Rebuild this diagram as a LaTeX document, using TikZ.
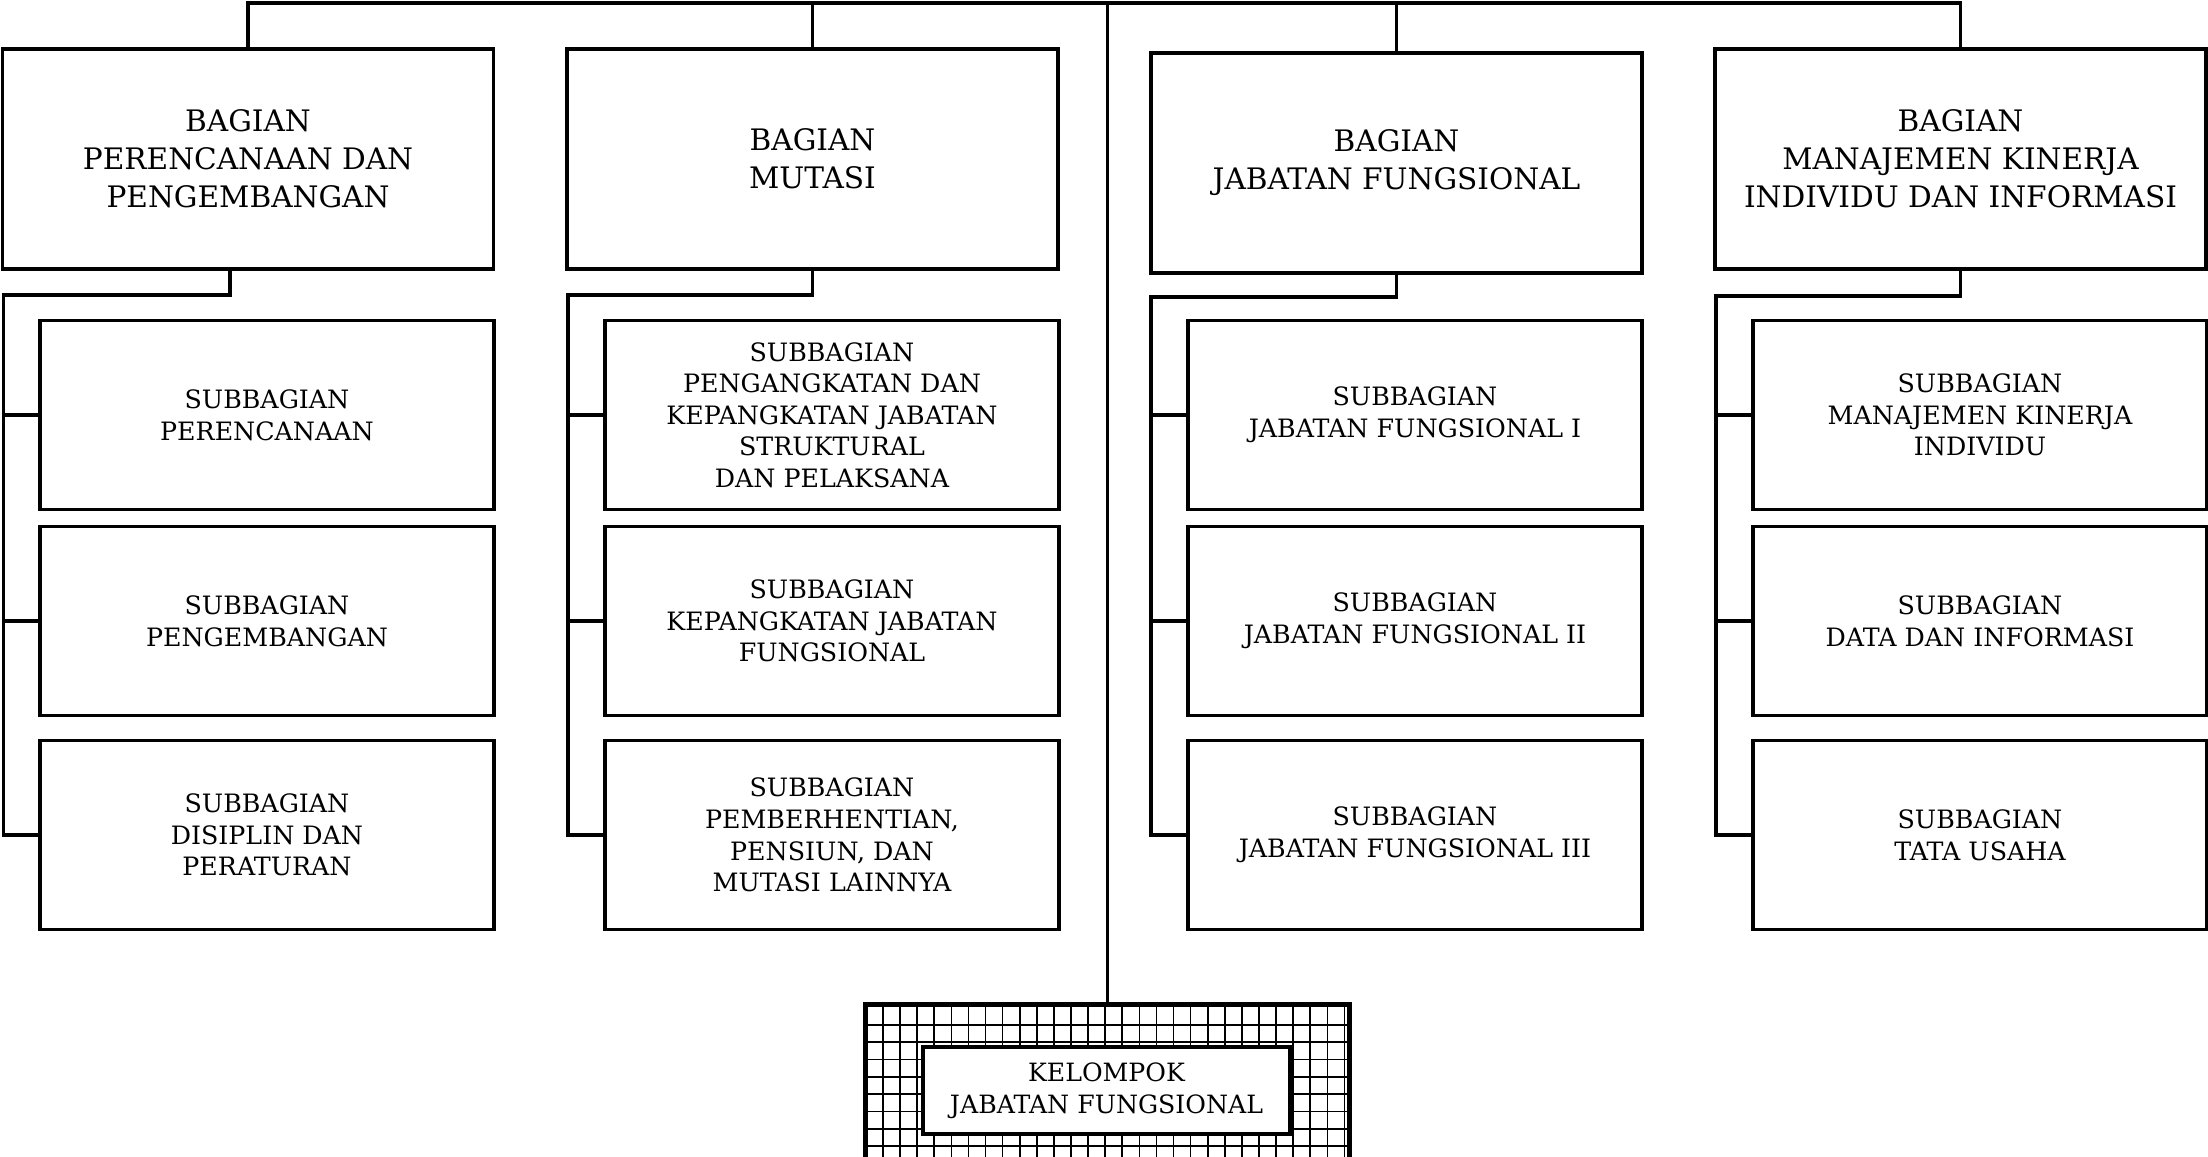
\documentclass[tikz,border=0pt]{standalone}
\usepackage{fontspec}
\setmainfont{DejaVu Serif}
\begin{document}
\begin{tikzpicture}[x=0.5pt,y=-0.5pt,
  box/.style={draw,line width=1.7pt,fill=white,inner sep=0pt,align=center},
  head/.style={box,minimum width=245.5pt,minimum height=110pt,font=\fontsize{14.8}{19}\selectfont},
  sub/.style={box,minimum width=227pt,minimum height=94.5pt,font=\fontsize{12.65}{15.8}\selectfont},
  conn/.style={line width=1.6pt},
  gridl/.style={line width=0.85pt}]
\path[use as bounding box] (0,0) rectangle (2208,1157);

% headers
\node[head] (h1) at (248,159) {BAGIAN\\PERENCANAAN DAN\\PENGEMBANGAN};
\node[head] (h2) at (812.5,159) {BAGIAN\\MUTASI};
\node[head] (h3) at (1396.5,163) {BAGIAN\\JABATAN FUNGSIONAL};
\node[head] (h4) at (1960.5,159) {BAGIAN\\MANAJEMEN KINERJA\\INDIVIDU DAN INFORMASI};

% sub boxes
\node[sub] (s11) at (267,415) {SUBBAGIAN\\PERENCANAAN};
\node[sub] (s12) at (267,621) {SUBBAGIAN\\PENGEMBANGAN};
\node[sub] (s13) at (267,835) {SUBBAGIAN\\DISIPLIN DAN\\PERATURAN};

\node[sub] (s21) at (832,415) {SUBBAGIAN\\PENGANGKATAN DAN\\KEPANGKATAN JABATAN\\STRUKTURAL\\DAN PELAKSANA};
\node[sub] (s22) at (832,621) {SUBBAGIAN\\KEPANGKATAN JABATAN\\FUNGSIONAL};
\node[sub] (s23) at (832,835) {SUBBAGIAN\\PEMBERHENTIAN,\\PENSIUN, DAN\\MUTASI LAINNYA};

\node[sub] (s31) at (1415,415) {SUBBAGIAN\\JABATAN FUNGSIONAL I};
\node[sub] (s32) at (1415,621) {SUBBAGIAN\\JABATAN FUNGSIONAL II};
\node[sub] (s33) at (1415,835) {SUBBAGIAN\\JABATAN FUNGSIONAL III};

\node[sub] (s41) at (1980,415) {SUBBAGIAN\\MANAJEMEN KINERJA\\INDIVIDU};
\node[sub] (s42) at (1980,621) {SUBBAGIAN\\DATA DAN INFORMASI};
\node[sub] (s43) at (1980,835) {SUBBAGIAN\\TATA USAHA};

% kelompok
\node[draw,line width=1.7pt,inner sep=0pt,minimum width=241.5pt,minimum height=85pt] (kout) at (1107.5,1090) {};
\begin{scope}
  \clip (kout.south west) rectangle (kout.north east);
  \foreach \k in {0,...,27} \draw[gridl] ({883+\k*17.09},1000) -- ({883+\k*17.09},1180);
  \foreach \k in {0,...,8} \draw[gridl] (860,{1025+\k*17.3}) -- (1360,{1025+\k*17.3});
\end{scope}
\draw[line width=1.7pt] (kout.south west) rectangle (kout.north east);
\node[box,minimum width=183.5pt,minimum height=43.5pt,font=\fontsize{12.6}{15.8}\selectfont] (kin) at (1106.5,1090.5) {KELOMPOK\\JABATAN FUNGSIONAL};

% top connectors
\coordinate (top) at (0,3);
\draw[conn] (h1.north) -- (h1.north |- top) -- (h4.north |- top) -- (h4.north);
\draw[conn] (h2.north |- top) -- (h2.north);
\draw[conn] (h3.north |- top) -- (h3.north);
\draw[conn] (kout.north |- top) -- (kout.north);

% column connectors
\coordinate (c1) at (3.5,295);
\coordinate (c2) at (568,295);
\coordinate (c3) at (1151,297);
\coordinate (c4) at (1716,296);
\draw[conn] ([xshift=-9pt]h1.south) |- (c1) |- (s13.west);
\draw[conn] (h2.south) |- (c2) |- (s23.west);
\draw[conn] (h3.south) |- (c3) |- (s33.west);
\draw[conn] (h4.south) |- (c4) |- (s43.west);
\foreach \c/\s in {c1/s11,c1/s12,c2/s21,c2/s22,c3/s31,c3/s32,c4/s41,c4/s42}
  \draw[conn] (\c |- \s.west) -- (\s.west);
\end{tikzpicture}
\end{document}
